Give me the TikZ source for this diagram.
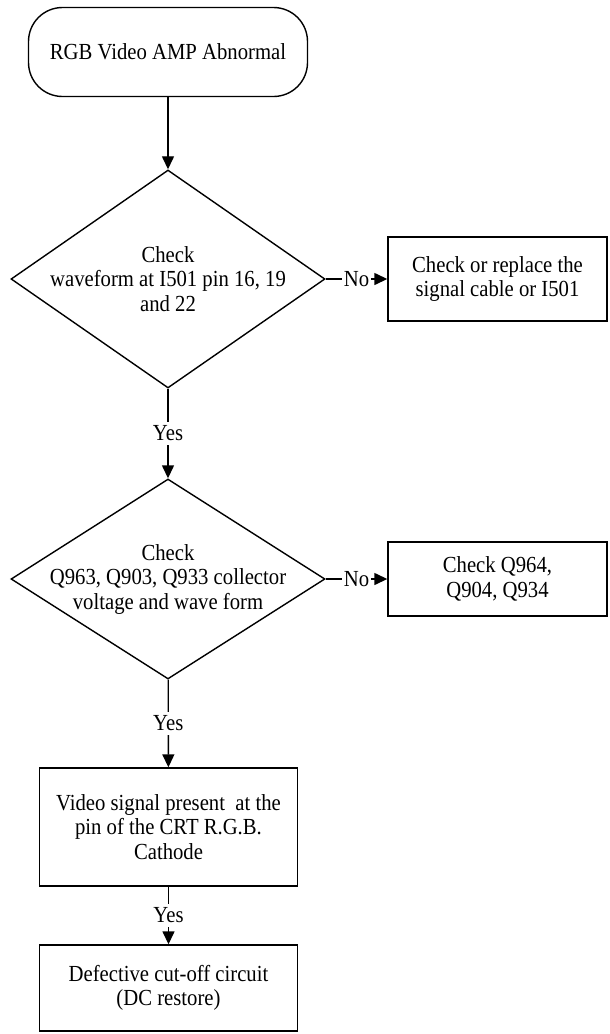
\documentclass[tikz,border=0pt]{standalone}
\usepackage{fontspec}
\setmainfont{Liberation Serif}[FakeStretch=0.9]
\usetikzlibrary{shapes.geometric,arrows.meta}

\tikzset{
  flow/.style={line width=1.4pt,-{Triangle[length=13pt,width=12pt]}},
  startbox/.style={draw,line width=1.4pt,rounded corners=34pt,minimum width=279pt,minimum height=89pt,align=center},
  decision/.style={draw,line width=1.4pt,diamond,aspect=1.5,inner sep=-40pt,minimum width=314pt,minimum height=218pt,align=center},
  box/.style={draw,line width=1.4pt,minimum width=219pt,align=center,inner sep=2pt},
  lbl/.style={fill=white,inner xsep=2pt,inner ysep=4pt}
}

\begin{document}
\begin{tikzpicture}[x=1pt,y=-1pt,every node/.style={font=\fontsize{23}{24.5}\selectfont}]
\useasboundingbox (0,0) rectangle (610,1034);

\node[startbox] (start) at (168,52) {RGB Video AMP Abnormal};
\node[decision] (d1) at (168,279) {Check\\waveform at I501 pin 16, 19\\and 22};
\node[box,minimum height=84pt] (b1) at (497.5,279) {Check or replace the\\signal cable or I501};
\node[decision,minimum height=200pt] (d2) at (168,579) {Check\\Q963, Q903, Q933 collector\\voltage and wave form};
\node[box,minimum height=74pt] (b2) at (497.5,579) {Check Q964,\\Q904, Q934};
\node[box,minimum width=258pt,minimum height=118pt] (b3) at (168.5,827) {Video signal present\ \ at the\\pin of the CRT R.G.B.\\Cathode};
\node[box,minimum width=258pt,minimum height=86pt] (b4) at (168.5,988) {Defective cut-off circuit\\(DC restore)};

\draw[flow] (start) -- (d1);
\draw[flow] (d1) -- node[lbl] {No} (b1);
\draw[flow] (d1) -- node[lbl] {Yes} (d2);
\draw[flow] (d2) -- node[lbl] {No} (b2);
\draw[flow] (d2) -- node[lbl] {Yes} (b3);
\draw[flow] (b3) -- node[lbl] {Yes} (b4);
\end{tikzpicture}
\end{document}
